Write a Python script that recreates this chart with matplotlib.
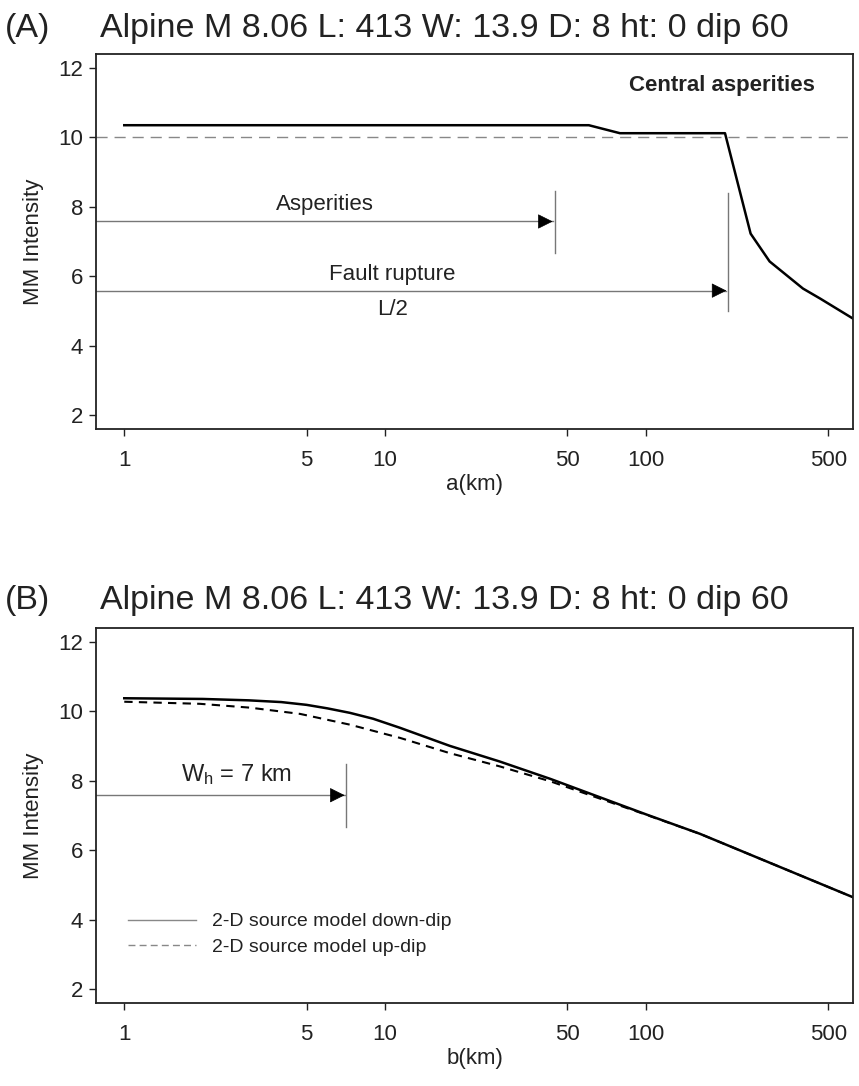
import numpy as np
import matplotlib
matplotlib.use("Agg")
import matplotlib.pyplot as plt
from matplotlib.ticker import FixedLocator, NullLocator

plt.rcParams['font.family'] = ['Liberation Sans', 'DejaVu Sans']
plt.rcParams['mathtext.fontset'] = 'custom'
plt.rcParams['mathtext.rm'] = 'Liberation Sans'
plt.rcParams['mathtext.it'] = 'Liberation Sans'

# panel A: central asperities
dist_a = [1, 60.4, 79.5, 201, 252, 298, 400, 466, 624]
mmi_a = [10.35, 10.35, 10.12, 10.12, 7.23, 6.43, 5.65, 5.36, 4.78]

# panel B: down-dip / up-dip source models
dist_down = [1, 2, 3, 4, 5, 6, 7.33, 9, 11.4, 17.7, 27.5, 43, 100, 161, 624]
mmi_down = [10.37, 10.35, 10.31, 10.26, 10.18, 10.08, 9.95, 9.78, 9.52, 9.0, 8.55, 8.05, 7.03, 6.47, 4.64]
dist_up = [1, 1.95, 3.03, 4.72, 7.33, 11.4, 17.7, 27.5, 43, 100, 161, 624]
mmi_up = [10.27, 10.21, 10.10, 9.92, 9.61, 9.23, 8.79, 8.41, 7.98, 7.02, 6.47, 4.64]

xticks = [1, 5, 10, 50, 100, 500]
yticks = [2, 4, 6, 8, 10, 12]
title = "Alpine M 8.06 L: 413 W: 13.9 D: 8 ht: 0 dip 60"

asperity_km = 45
half_length = 413 / 2
wh_km = 7.1
arrow_y = 7.58
rupture_y = 5.59

fig = plt.figure(figsize=(8.59, 10.86), dpi=100)
ax1 = fig.add_axes([0.1114, 0.6047, 0.882, 0.3456])
ax2 = fig.add_axes([0.1114, 0.0764, 0.882, 0.3456])

def style(ax, xlabel):
    ax.set_xscale('log')
    ax.set_xlim(0.777, 624)
    ax.set_ylim(1.6, 12.4)
    ax.xaxis.set_major_locator(FixedLocator(xticks))
    ax.xaxis.set_minor_locator(NullLocator())
    ax.set_xticklabels([str(t) for t in xticks])
    ax.set_yticks(yticks)
    ax.tick_params(direction='out', length=5, width=1, labelsize=16, colors='#222222')
    ax.tick_params(axis='x', pad=10)
    ax.tick_params(axis='y', pad=4)
    for s in ax.spines.values():
        s.set_linewidth(1.3)
        s.set_color('#222222')
    ax.set_xlabel(xlabel, fontsize=16, labelpad=2, color='#222222')
    ax.set_ylabel("MM Intensity", fontsize=16, labelpad=10, color='#222222')

def arrow(ax, x0, x1, y):
    ax.plot([x0, x1], [y, y], color='#777777', lw=1)
    ax.annotate('', xy=(x1, y), xytext=(x1 * 0.9, y),
                arrowprops=dict(arrowstyle='-|>', color='black', lw=0.5,
                                mutation_scale=24, shrinkA=0, shrinkB=0))

# (A)
style(ax1, "a(km)")
ax1.axhline(10, color='#888888', lw=1, ls=(0, (8, 5)))
ax1.plot(dist_a, mmi_a, color='black', lw=1.8)
arrow(ax1, 0.777, asperity_km * 0.975, arrow_y)
ax1.plot([asperity_km, asperity_km], [6.66, 8.47], color='#777777', lw=1)
arrow(ax1, 0.777, half_length * 0.985, rupture_y)
ax1.plot([half_length, half_length], [5.01, 8.39], color='#777777', lw=1)
ax1.text(5.9, 8.07, "Asperities", ha='center', va='center', fontsize=16, color='#222222')
ax1.text(10.6, 6.06, "Fault rupture", ha='center', va='center', fontsize=16, color='#222222')
ax1.text(10.7, 5.05, "L/2", ha='center', va='center', fontsize=16, color='#222222')
ax1.text(0.949, 11.48, "Central asperities", ha='right', va='center', fontsize=16,
         fontweight='bold', color='#222222', transform=ax1.get_yaxis_transform())

# (B)
style(ax2, "b(km)")
ax2.plot(dist_down, mmi_down, color='black', lw=1.8)
ax2.plot(dist_up, mmi_up, color='black', lw=1.5, ls=(0, (4, 3)))
arrow(ax2, 0.777, wh_km * 0.985, arrow_y)
ax2.plot([wh_km, wh_km], [6.66, 8.47], color='#777777', lw=1)
ax2.text(2.7, 8.17, r"W$_\mathregular{h}$ = 7 km", ha='center', va='center', fontsize=17, color='#222222')

h1, = ax2.plot([], [], color='#888888', lw=1)
h2, = ax2.plot([], [], color='#888888', lw=1, ls=(0, (5, 3)))
ax2.legend([h1, h2], ["2-D source model down-dip", "2-D source model up-dip"],
           loc='lower left', bbox_to_anchor=(0.043, 0.126), frameon=False,
           fontsize=14, handlelength=3.5, handletextpad=0.8, labelspacing=0.4,
           borderpad=0, borderaxespad=0, labelcolor='#222222')

for lab, y in (("(A)", 0.974), ("(B)", 0.447)):
    fig.text(0.006, y, lab, fontsize=24.5, va='center', color='#222222')
    fig.text(0.116, y, title, fontsize=24.5, va='center', color='#222222')

fig.savefig("out.png", dpi=100)
